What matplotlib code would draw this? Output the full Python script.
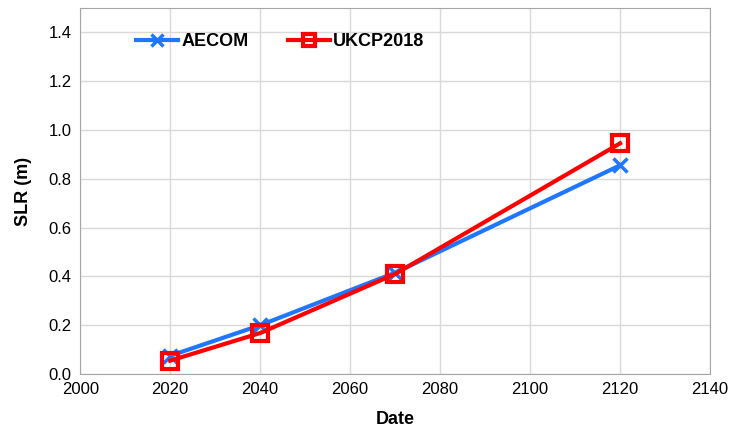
import matplotlib
matplotlib.use("Agg")
import matplotlib.pyplot as plt

plt.rcParams['font.family'] = ['Liberation Sans', 'DejaVu Sans']

years = [2020, 2040, 2070, 2120]
aecom = [0.075, 0.20, 0.415, 0.855]
ukcp = [0.055, 0.168, 0.41, 0.945]

fig = plt.figure(figsize=(7.29, 4.37), dpi=100)
ax = fig.add_axes([0.110, 0.144, 0.864, 0.838])

ax.plot(years, aecom, color='#1F77FF', lw=3, marker='x', ms=10, mew=2.5,
        label='AECOM', zorder=3)
ax.plot(years, ukcp, color='#FF0000', lw=3, marker='s', ms=11, mew=3,
        mfc='none', label='UKCP2018', zorder=4)

ax.set_xlim(2000, 2140)
ax.set_ylim(0, 1.5)
ax.set_xticks(range(2000, 2141, 20))
ax.set_yticks([0, 0.2, 0.4, 0.6, 0.8, 1.0, 1.2, 1.4])
ax.set_yticklabels(['%.1f' % v for v in ax.get_yticks()])
ax.grid(True, color='#D9D9D9', lw=1)
ax.set_axisbelow(True)
for s in ax.spines.values():
    s.set_color('#A6A6A6')
ax.tick_params(length=0, labelsize=12, pad=6)

ax.set_xlabel('Date', fontsize=13, fontweight='bold', labelpad=10)
ax.set_ylabel('SLR (m)', fontsize=13, fontweight='bold', labelpad=12)

ax.legend(loc='upper left', ncol=2, frameon=False,
          prop={'weight': 'bold', 'size': 13}, handlelength=2.3,
          markerscale=0.8, columnspacing=2.2, handletextpad=0.2,
          bbox_to_anchor=(0.063, 0.975))

fig.savefig('out.png', dpi=100)
